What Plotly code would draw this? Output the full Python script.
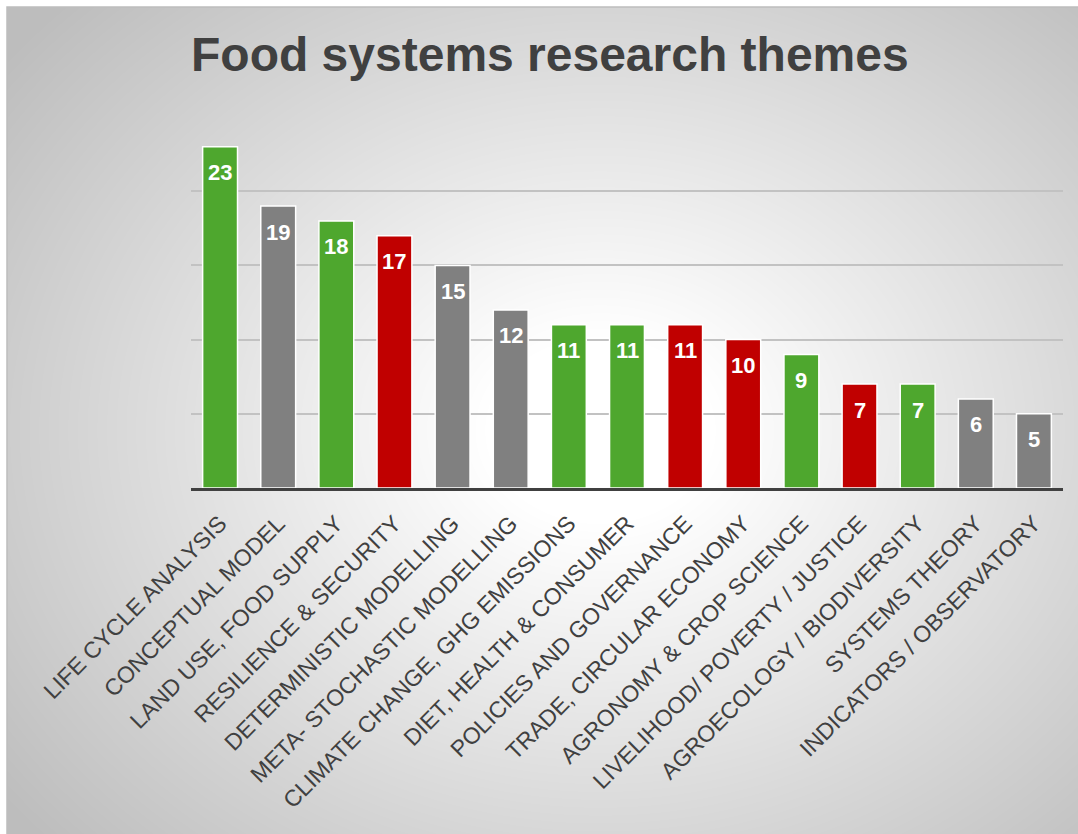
import base64
import struct
import zlib

import numpy as np
import plotly.graph_objects as go

# --- data -------------------------------------------------------------
themes = [
    "LIFE CYCLE ANALYSIS",
    "CONCEPTUAL MODEL",
    "LAND USE, FOOD SUPPLY",
    "RESILIENCE & SECURITY",
    "DETERMINISTIC MODELLING",
    "META- STOCHASTIC MODELLING",
    "CLIMATE CHANGE, GHG EMISSIONS",
    "DIET, HEALTH & CONSUMER",
    "POLICIES AND GOVERNANCE",
    "TRADE, CIRCULAR ECONOMY",
    "AGRONOMY & CROP SCIENCE",
    "LIVELIHOOD/ POVERTY / JUSTICE",
    "AGROECOLOGY / BIODIVERSITY",
    "SYSTEMS THEORY",
    "INDICATORS / OBSERVATORY",
]
counts = [23, 19, 18, 17, 15, 12, 11, 11, 11, 10, 9, 7, 7, 6, 5]
groups = ["g", "k", "g", "r", "k", "k", "g", "g", "r", "r", "g", "r", "g", "k", "k"]

palette = {"g": "#4EA72E", "k": "#808080", "r": "#C00000"}
bar_colors = [palette[g] for g in groups]

FONT = "Liberation Sans, Arial, sans-serif"

# --- layout geometry (pixels) -----------------------------------------
W, H = 1078, 834
L, R, T, B = 191, 15, 117, 346
PW, PH = W - L - R, H - T - B


def px_x(x):
    return (x - L) / PW


def px_y(y):
    return (H - B - y) / PH


# --- soft radial background ------------------------------------------
def gray_png(arr):
    h, w = arr.shape
    raw = b"".join(b"\x00" + arr[i].tobytes() for i in range(h))

    def chunk(tag, data):
        return (struct.pack(">I", len(data)) + tag + data
                + struct.pack(">I", zlib.crc32(tag + data) & 0xFFFFFFFF))

    return (b"\x89PNG\r\n\x1a\n"
            + chunk(b"IHDR", struct.pack(">IIBBBBB", w, h, 8, 0, 0, 0, 0))
            + chunk(b"IDAT", zlib.compress(raw, 9))
            + chunk(b"IEND", b""))


bx0, by0 = 7, 7
bw, bh = W - bx0, H - by0
yy, xx = np.mgrid[0:bh, 0:bw].astype(float)
cx, cy, rx, ry = 600 - bx0, 430 - by0, 640, 520
d = np.sqrt(((xx - cx) / rx) ** 2 + ((yy - cy) / ry) ** 2)
t = np.clip((d - 0.18) / 1.0, 0, 1)
shade = (255 - 66 * t).astype(np.uint8)
bg_uri = "data:image/png;base64," + base64.b64encode(gray_png(shade)).decode()

fig = go.Figure(
    go.Bar(
        x=themes,
        y=counts,
        marker=dict(color=bar_colors, line=dict(color="white", width=1.5)),
        width=0.6,
        hoverinfo="x+y",
    )
)

# value labels just inside the top of each bar
for name, val in zip(themes, counts):
    fig.add_annotation(
        x=name, y=val, text=f"<b>{val}</b>",
        xref="x", yref="y",
        xanchor="center", yanchor="middle", yshift=-26,
        showarrow=False,
        font=dict(family=FONT, size=22, color="white"),
    )

fig.add_layout_image(
    source=bg_uri,
    xref="paper", yref="paper",
    x=px_x(bx0), y=px_y(by0),
    sizex=bw / PW, sizey=bh / PH,
    xanchor="left", yanchor="top",
    sizing="stretch", layer="below",
)

fig.add_shape(
    type="rect", xref="paper", yref="paper",
    x0=px_x(bx0), y0=px_y(H + 5), x1=px_x(W + 5), y1=px_y(by0),
    line=dict(color="#bdbdbd", width=1.5), layer="below",
)

fig.add_annotation(
    text="<b>Food systems research themes</b>",
    xref="paper", yref="paper",
    x=px_x(550), y=px_y(55),
    xanchor="center", yanchor="middle",
    showarrow=False,
    font=dict(family=FONT, size=48, color="#404040"),
)

fig.update_layout(
    width=W, height=H,
    margin=dict(l=L, r=R, t=T, b=B),
    paper_bgcolor="white",
    plot_bgcolor="rgba(0,0,0,0)",
    showlegend=False,
    bargap=0.4,
    font=dict(family=FONT, color="#404040"),
    xaxis=dict(
        tickangle=-45,
        tickfont=dict(size=23, color="#404040"),
        showline=True, linecolor="#404040", linewidth=3,
        ticks="", showgrid=False,
        ticklabelstandoff=10,
        automargin=False,
    ),
    yaxis=dict(
        range=[0, 25],
        dtick=5,
        showticklabels=False,
        showgrid=True, gridcolor="#c2c2c2", gridwidth=2,
        zeroline=False, ticks="",
    ),
)

fig.write_html("out.html")
